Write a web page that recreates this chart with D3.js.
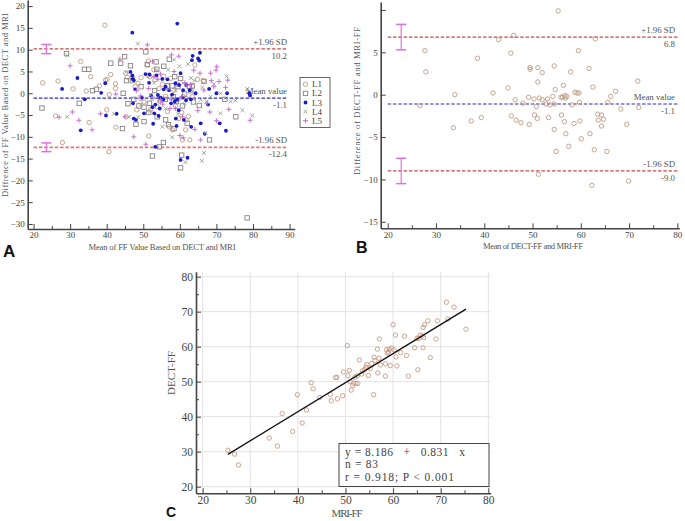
<!DOCTYPE html>
<html><head><meta charset="utf-8">
<script src="https://cdn.jsdelivr.net/npm/d3@7"></script>
<style>
html,body{margin:0;padding:0;background:#fff;}
svg{display:block;}
text{font-family:"Liberation Serif","DejaVu Serif",serif;}
</style></head>
<body>
<svg id="chart" width="685" height="521"></svg>
<script>
// ---------- Panel A data: [mean, difference] ----------
const aL1 = [[39.5,15.6],[22.5,2.4],[26.0,-5.2],[26.7,2.8],[27.9,-11.3],[30.8,1.0],[32.9,7.3],[34.4,0.5],[35.2,-6.7],[35.6,3.8],[38.0,1.7],[39.7,3.0],[40.1,3.2],[40.0,-3.8],[41.1,4.3],[40.7,-0.3],[40.6,-13.4],[42.4,2.2],[42.4,1.1],[42.5,-7.8],[45.2,4.6],[45.3,-5.4],[45.6,3.7],[47.1,3.6],[47.8,1.5],[48.2,-3.8],[48.6,2.3],[49.3,-1.2],[49.4,3.6],[50.2,-2.0],[51.1,6.5],[51.4,7.4],[51.3,4.1],[51.8,3.8],[52.0,-3.8],[52.5,-1.1],[51.5,-9.8],[52.9,5.4],[53.2,3.1],[53.8,-3.1],[54.3,1.1],[54.5,-1.9],[55.2,2.1],[55.6,3.9],[56.1,-0.7],[56.6,-4.2],[57.5,3.4],[58.0,-8.4],[58.4,0.7],[58.8,-2.9],[59.3,2.1],[59.7,-5.8],[60.5,-4.4],[60.7,-10.7],[60.9,-0.8],[61.7,-6.1],[62.3,-5.3],[62.7,-10.7],[63.4,-0.8],[64.1,6.5],[64.8,3.2],[66.4,2.9],[61.6,-8.4],[59.5,-1.5],[57.1,-7.7]];
const aL2 = [[22.3,-3.4],[29.0,9.1],[32.5,-2.3],[33.9,5.5],[35.1,5.5],[36.1,0.6],[37.2,0.9],[41.1,6.9],[43.8,6.9],[44.9,8.4],[44.5,0.0],[44.3,-8.1],[45.4,2.9],[45.8,-2.4],[46.5,6.3],[47.0,2.9],[47.4,-1.4],[48.0,-7.1],[48.8,-2.9],[49.4,1.5],[50.2,-3.2],[50.2,-6.5],[50.7,9.5],[51.1,6.6],[51.5,-4.4],[51.7,-2.3],[52.5,-14.4],[53.1,0.6],[53.5,7.2],[53.7,5.5],[53.8,-5.4],[54.4,-12.3],[54.7,-1.5],[55.5,-11.3],[55.6,6.2],[56.0,-1.4],[56.1,-6.1],[56.6,1.7],[56.9,-7.2],[57.1,7.8],[57.9,1.7],[58.2,-0.8],[58.4,-8.1],[58.6,3.8],[59.0,-1.9],[59.5,1.5],[60.2,3.4],[60.2,-17.1],[60.5,-14.2],[60.7,-2.9],[61.3,-0.2],[62.0,-6.9],[62.6,1.5],[63.0,0.6],[63.4,1.7],[63.7,-2.0],[65.3,-2.8],[66.6,2.7],[68.1,-10.7],[72.3,-1.4],[75.3,-5.4],[78.4,-28.6]];
const aL3 = [[47.0,13.9],[59.3,16.0],[27.8,1.0],[32.0,3.5],[32.9,-8.5],[34.0,-1.4],[38.5,0.1],[39.8,-5.1],[39.6,2.3],[42.7,-4.7],[46.5,4.9],[47.0,4.1],[47.1,3.3],[47.4,3.0],[47.2,-2.3],[47.4,-5.8],[48.0,-6.1],[47.8,0.9],[49.6,-1.0],[50.2,-4.6],[50.6,4.4],[51.6,2.4],[51.7,4.3],[52.1,-0.5],[52.5,-3.2],[52.7,-7.0],[53.0,-4.6],[53.3,-12.3],[53.3,-2.6],[53.6,4.1],[54.0,-0.4],[54.2,-5.2],[54.5,-3.5],[54.7,-1.0],[55.2,3.3],[55.5,-1.4],[55.6,0.9],[56.1,1.5],[56.6,3.2],[57.0,0.7],[57.6,-2.3],[57.9,-0.3],[58.6,-1.9],[58.8,2.3],[58.9,-5.8],[59.1,-7.5],[59.3,-1.4],[59.7,-3.9],[59.8,1.9],[60.2,4.6],[60.2,-15.3],[60.7,-1.0],[60.9,0.7],[61.1,-6.1],[61.7,-1.6],[61.7,1.9],[62.1,-14.8],[62.7,0.7],[63.0,-1.4],[63.1,-7.7],[63.3,7.6],[63.5,8.6],[64.3,0.0],[65.0,8.0],[65.3,7.5],[65.5,9.3],[65.7,-6.9],[66.8,-9.3],[67.7,-2.6],[68.0,1.0],[70.0,0.0],[70.9,-6.9],[72.6,-8.6],[72.9,0.0],[79.0,0.0],[79.2,-0.5]];
const aL4 = [[48.5,11.4],[29.2,-5.4],[29.3,8.7],[42.0,-4.7],[45.4,4.9],[46.1,-5.4],[48.6,-5.5],[49.3,-2.6],[51.1,-4.1],[52.9,2.4],[53.8,5.2],[55.2,-7.7],[56.1,-3.5],[56.8,5.4],[57.9,-10.1],[58.4,7.7],[58.8,0.7],[59.9,6.2],[60.9,2.3],[61.3,-2.4],[61.5,-15.8],[62.2,6.7],[63.0,3.5],[63.9,2.9],[65.7,-1.5],[66.0,-15.5],[66.1,1.3],[66.6,-13.7],[67.0,-9.1],[67.3,-1.9],[68.4,-0.8],[69.3,2.1],[71.1,0.0],[71.1,-4.6],[72.8,3.9],[73.9,-1.9],[75.2,-1.7],[77.1,-3.9],[78.4,1.0],[79.8,-5.1],[59.5,-4.7],[51.9,-0.4]];
const aL5 = [[51.1,11.1],[43.6,7.8],[30.0,6.3],[27.0,-5.5],[30.6,-4.3],[32.4,-6.2],[36.0,-8.4],[38.3,-4.7],[42.5,-0.2],[45.0,-5.4],[47.4,-10.0],[48.2,0.6],[49.3,-0.6],[50.7,-11.7],[51.5,1.1],[52.5,7.3],[52.9,3.8],[54.0,3.2],[54.7,4.4],[55.3,-2.5],[56.6,0.9],[57.3,-3.5],[57.7,8.8],[58.4,5.0],[58.8,-3.5],[59.7,8.5],[60.0,-9.7],[60.5,-0.8],[60.9,-10.2],[61.4,2.4],[61.9,1.8],[63.0,2.0],[63.8,5.3],[64.1,-8.3],[64.9,-4.0],[65.5,4.6],[65.7,-10.7],[66.6,0.7],[67.5,-2.3],[68.2,-4.3],[68.4,4.6],[68.6,2.9],[69.3,1.5],[69.9,5.3],[70.0,-6.3],[70.1,6.1],[70.7,2.7],[72.5,1.3],[73.1,3.0],[73.4,-3.7],[79.2,-6.2],[54.7,-1.5],[57.7,-1.5],[60.7,-5.4]];
const aSeriesNames = ["L1","L2","L3","L4","L5"];
const aLimits = {upper:10.2, mean:-1.1, lower:-12.4};
const aCI = {upper:[9.1,11.2], lower:[-13.4,-11.4], x:23.5};

// ---------- Panel B data: [mean, difference] ----------
const bPoints = [[27.7,5.2],[27.9,2.7],[26.7,-1.3],[33.6,-3.9],[33.9,0.0],[37.3,-3.1],[38.6,4.3],[39.4,-2.7],[41.8,0.2],[43.0,6.5],[44.9,0.8],[45.5,4.9],[45.6,-2.5],[46.1,7.0],[46.4,-0.6],[46.6,-3.0],[47.6,-3.3],[49.2,-0.3],[49.3,-3.5],[49.5,3.2],[49.5,3.0],[50.3,-0.5],[50.4,-2.4],[50.8,-1.4],[51.0,-2.8],[51.1,1.5],[51.1,3.2],[51.2,-9.4],[51.4,-0.4],[52.0,-0.6],[52.0,2.6],[52.8,-1.1],[53.1,-0.5],[53.3,-2.7],[54.2,-0.2],[54.5,3.4],[54.5,-4.1],[54.7,0.6],[54.5,-1.1],[54.9,-6.7],[55.3,9.9],[55.9,-0.3],[56.0,-2.4],[56.2,-0.3],[56.4,1.1],[56.6,-3.2],[56.7,-0.1],[56.8,-0.4],[56.9,-4.6],[57.5,-6.1],[57.9,2.7],[58.2,-1.2],[58.6,-3.4],[58.8,0.3],[59.2,0.2],[59.5,5.2],[59.6,0.2],[59.7,-0.9],[59.8,-3.1],[60.1,-5.2],[61.7,3.1],[61.9,-4.6],[62.3,-10.7],[62.5,0.9],[62.8,-6.5],[63.0,6.6],[63.5,-2.3],[63.6,-3.0],[64.3,-2.4],[64.3,-3.7],[64.7,-2.9],[65.4,-6.7],[65.6,-0.9],[66.2,-0.2],[67.2,0.4],[68.3,-1.7],[69.5,-3.5],[69.9,-10.2],[71.8,1.6],[72.0,-1.5],[53.6,-1.2],[57.1,-0.2],[48.0,-1.0]];
const bLimits = {upper:6.8, mean:-1.1, lower:-9.0};
const bCI = {upper:[5.3,8.3], lower:[-10.5,-7.5], x:22.8};

// ---------- Panel C data: [MRI-FF, DECT-FF] ----------
const cPoints = [[25.3,30.4],[26.7,29.3],[27.5,26.2],[34.0,33.9],[35.7,31.6],[36.7,40.9],[38.9,35.8],[39.9,46.3],[40.9,38.2],[41.8,41.9],[42.8,49.7],[43.2,48.0],[44.6,45.5],[46.8,46.4],[47.0,44.5],[47.9,51.2],[48.2,51.2],[48.3,45.1],[49.4,46.0],[49.6,52.8],[50.4,60.3],[50.5,51.7],[50.8,53.2],[51.0,50.0],[51.2,47.6],[51.5,48.9],[51.7,49.6],[52.0,51.3],[52.2,49.5],[52.5,51.7],[52.6,49.5],[52.9,56.2],[53.4,52.2],[53.6,53.1],[54.3,54.2],[54.5,54.9],[54.8,51.8],[55.2,53.8],[55.9,46.3],[56.0,57.0],[56.2,56.0],[56.7,59.3],[56.8,52.5],[57.0,56.7],[57.1,62.2],[57.3,54.8],[58.4,55.1],[58.4,51.6],[58.6,59.1],[58.8,58.2],[59.2,59.3],[59.4,54.6],[59.7,59.6],[60.0,66.3],[60.2,59.1],[60.5,63.3],[60.6,57.1],[60.8,54.5],[61.6,58.3],[62.4,63.0],[62.8,57.5],[63.2,51.6],[64.5,59.7],[65.0,62.4],[65.2,53.4],[65.4,62.4],[65.7,63.3],[66.1,63.1],[66.3,65.5],[66.4,62.6],[66.3,59.7],[66.6,66.3],[67.3,67.4],[67.8,56.9],[69.0,62.2],[69.3,67.4],[71.2,72.7],[71.5,67.9],[72.8,71.3],[75.3,65.0],[54.0,53.5],[59.0,58.5],[55.5,55.2]];
const cFit = {intercept:8.186, slope:0.831, x0:25.3, x1:75.3};
const cStats = ["y = 8.186   +   0.831   x", "n = 83", "r = 0.918; P < 0.001"];

const svg = d3.select("#chart");
const AXIS = "#444", TXT = "#555";
const colors = {L1:"#bf9b82", L2:"#8c8282", L3:"#1a1acc", L4:"#8fa68f", L5:"#c266c9"};
const fmt = d3.format("d");

function marker(g, type, x, y, color) {
  if (type === "L1") g.append("circle").attr("cx",x).attr("cy",y).attr("r",2.2).attr("fill","none").attr("stroke",color).attr("stroke-width",0.9);
  else if (type === "L2") g.append("rect").attr("x",x-2.2).attr("y",y-2.2).attr("width",4.4).attr("height",4.4).attr("fill","none").attr("stroke",color).attr("stroke-width",0.9);
  else if (type === "L3") g.append("circle").attr("cx",x).attr("cy",y).attr("r",1.9).attr("fill",color);
  else if (type === "L4") g.append("path").attr("d",`M${x-1.9},${y-1.9}L${x+1.9},${y+1.9}M${x-1.9},${y+1.9}L${x+1.9},${y-1.9}`).attr("stroke",color).attr("stroke-width",0.9);
  else if (type === "L5") g.append("path").attr("d",`M${x-2.5},${y}L${x+2.5},${y}M${x},${y-2.5}L${x},${y+2.5}`).attr("stroke",color).attr("stroke-width",0.9);
}

function styleAxis(g, fs) {
  g.selectAll("path.domain").attr("stroke",AXIS).attr("stroke-width",1.6);
  g.selectAll(".tick line").attr("stroke",AXIS).attr("stroke-width",1);
  g.selectAll(".tick text").attr("fill","#444").style("font-size",fs+"px").style("font-family",'"Liberation Serif",serif');
}

function title(txt, x, y, len, fs, rot) {
  const t = svg.append("text").attr("text-anchor","middle").attr("fill",TXT).style("font-size",fs+"px")
    .attr("textLength",len).attr("lengthAdjust","spacing").text(txt);
  if (rot) t.attr("transform",`translate(${x},${y}) rotate(-90)`);
  else t.attr("x",x).attr("y",y);
  return t;
}

function blandAltman(cfg) {
  const {x, y, xTicks, xMinor, yTicks, yLabelFilter, limits, ci, lineX1, labelRight, fs} = cfg;
  const g = svg.append("g");
  const x0 = x(20), x1 = x(lineX1);
  const lines = [
    {v:limits.upper, c:"#c94a4a", w:1.2, top:"+1.96 SD"},
    {v:limits.mean, c:"#2a2acc", w:1.2, top:"Mean value"},
    {v:limits.lower, c:cfg.lowerColor, w:cfg.lowerWidth, top:"-1.96 SD"}
  ];
  lines.forEach(L => {
    g.append("line").attr("x1",x0).attr("x2",x1).attr("y1",y(L.v)).attr("y2",y(L.v))
      .attr("stroke",L.c).attr("stroke-width",L.w).attr("stroke-dasharray","3.5,1.8");
    g.append("text").attr("x",labelRight).attr("y",y(L.v)-4).attr("text-anchor","end")
      .attr("fill",TXT).style("font-size","8.8px").text(L.top);
    g.append("text").attr("x",labelRight).attr("y",y(L.v)+10).attr("text-anchor","end")
      .attr("fill",TXT).style("font-size","8.8px").text(L.v < 0 ? "-" + Math.abs(L.v).toFixed(1) : L.v.toFixed(1));
  });
  [ci.upper, ci.lower].forEach(r => {
    const cx = x(ci.x);
    g.append("line").attr("x1",cx).attr("x2",cx).attr("y1",y(r[0])).attr("y2",y(r[1])).attr("stroke","#e070e0").attr("stroke-width",1.2);
    [r[0], r[1]].forEach(v => g.append("line").attr("x1",cx-5).attr("x2",cx+5).attr("y1",y(v)).attr("y2",y(v)).attr("stroke","#e070e0").attr("stroke-width",1.5));
  });
  const gx = svg.append("g").attr("transform",`translate(0,${y.range()[0]})`)
    .call(d3.axisBottom(x).tickValues(xTicks).tickSizeInner(-5).tickSizeOuter(0).tickPadding(3).tickFormat(fmt));
  gx.append("g").call(d3.axisBottom(x).tickValues(xMinor).tickSizeInner(-3).tickSizeOuter(0).tickFormat(""))
    .select("path.domain").remove();
  styleAxis(gx, fs);
  const gy = svg.append("g").attr("transform",`translate(${x.range()[0]},0)`)
    .call(d3.axisLeft(y).tickValues(yTicks).tickSizeInner(-5).tickSizeOuter(0).tickPadding(3).tickFormat(d => yLabelFilter(d) ? fmt(d) : ""));
  styleAxis(gy, fs);
  return g;
}

// ================= Panel A =================
const xA = d3.scaleLinear().domain([18.4, 91.4]).range([27.7, 294.7]);
const yA = d3.scaleLinear().domain([-31.15, 21.4]).range([229, 0]);
blandAltman({x:xA, y:yA, xTicks:d3.range(20,91,10), xMinor:d3.range(25,90,10),
  yTicks:d3.range(-30,21,5), yLabelFilter:() => true, limits:aLimits, ci:aCI, lineX1:89.5,
  labelRight:287, fs:9, lowerColor:"#e07a7a", lowerWidth:1.8});
const aSeries = [aL1, aL2, aL3, aL4, aL5];
const gAp = svg.append("g");
aSeries.forEach((pts, i) => {
  const nm = aSeriesNames[i];
  pts.forEach(p => marker(gAp, nm, xA(p[0]), yA(p[1]), colors[nm]));
});
const lg = svg.append("g");
lg.append("rect").attr("x",300).attr("y",77.5).attr("width",30).attr("height",50).attr("fill","#fff").attr("stroke","#555").attr("stroke-width",0.9);
aSeriesNames.forEach((nm, i) => {
  const yy = 84.3 + i*9.1;
  marker(lg, nm, 305.5, yy, colors[nm]);
  lg.append("text").attr("x",312).attr("y",yy+3).attr("fill","#444").style("font-size","9px").text(nm);
});
title("Diffrence of FF Value Based on DECT and MRI", 8, 105, 184, 8.6, true);
title("Mean of FF Value Based on DECT and MRI", 162, 250, 147, 8.6, false);
svg.append("text").attr("x",3).attr("y",257).style("font-family",'"Liberation Sans",Arial,sans-serif')
  .style("font-weight","bold").style("font-size","17px").attr("fill","#111").text("A");

// ================= Panel B =================
const xB = d3.scaleLinear().domain([18.55, 80.4]).range([380.7, 679.3]);
const yB = d3.scaleLinear().domain([-15.77, 10.94]).range([228.3, 2]);
blandAltman({x:xB, y:yB, xTicks:d3.range(20,81,10), xMinor:d3.range(25,80,10),
  yTicks:d3.range(-15,11,5), yLabelFilter:d => d !== 10, limits:bLimits, ci:bCI, lineX1:80.3,
  labelRight:675, fs:9, lowerColor:"#c94a4a", lowerWidth:1.2});
const gBp = svg.append("g");
bPoints.forEach(p => marker(gBp, "L1", xB(p[0]), yB(p[1]), colors.L1));
title("Difference of DECT-FF and MRI-FF", 360, 101, 148, 8.6, true);
title("Mean of DECT-FF and MRI-FF", 533, 249, 100, 8.6, false);
svg.append("text").attr("x",356).attr("y",253).style("font-family",'"Liberation Sans",Arial,sans-serif')
  .style("font-weight","bold").style("font-size","16px").attr("fill","#111").text("B");

// ================= Panel C =================
const xC = d3.scaleLinear().domain([18.6, 80.5]).range([196, 490.7]);
const yC = d3.scaleLinear().domain([18.11, 81.43]).range([493.3, 271.7]);
const grid = svg.append("g");
d3.range(20,81,10).forEach(v => {
  grid.append("line").attr("x1",xC(v)).attr("x2",xC(v)).attr("y1",yC.range()[0]).attr("y2",yC.range()[1]).attr("stroke","#e2e2e2").attr("stroke-width",1);
  grid.append("line").attr("y1",yC(v)).attr("y2",yC(v)).attr("x1",xC.range()[0]).attr("x2",xC.range()[1]).attr("stroke","#e2e2e2").attr("stroke-width",1);
});
const gCp = svg.append("g");
cPoints.forEach(p => marker(gCp, "L1", xC(p[0]), yC(p[1]), "#c99a82"));
svg.append("line").attr("x1",xC(cFit.x0)).attr("y1",yC(cFit.intercept + cFit.slope*cFit.x0))
  .attr("x2",xC(cFit.x1)).attr("y2",yC(cFit.intercept + cFit.slope*cFit.x1))
  .attr("stroke","#111").attr("stroke-width",1.4);
const gxC = svg.append("g").attr("transform",`translate(0,${yC.range()[0]})`)
  .call(d3.axisBottom(xC).tickValues(d3.range(20,81,10)).tickSizeInner(-5).tickSizeOuter(0).tickPadding(3).tickFormat(fmt));
gxC.append("g").call(d3.axisBottom(xC).tickValues(d3.range(25,80,10)).tickSizeInner(-3).tickSizeOuter(0).tickFormat("")).select("path.domain").remove();
styleAxis(gxC, 11.5);
const gyC = svg.append("g").attr("transform",`translate(${xC.range()[0]},0)`)
  .call(d3.axisLeft(yC).tickValues(d3.range(20,81,10)).tickSizeInner(-5).tickSizeOuter(0).tickPadding(3).tickFormat(fmt));
gyC.append("g").call(d3.axisLeft(yC).tickValues(d3.range(25,80,10)).tickSizeInner(-3).tickSizeOuter(0).tickFormat("")).select("path.domain").remove();
styleAxis(gyC, 11.5);
const box = svg.append("g");
box.append("rect").attr("x",339).attr("y",443.5).attr("width",150).attr("height",43).attr("fill","#fff").attr("stroke","#444").attr("stroke-width",1);
const statLens = [120, 33, 109];
cStats.forEach((s, i) => {
  box.append("text").attr("x",345).attr("y",456 + i*12.3).attr("fill","#444")
    .style("font-size","11.5px").style("white-space","pre").attr("xml:space","preserve")
    .attr("textLength",statLens[i]).attr("lengthAdjust","spacing").text(s);
});
title("DECT-FF", 175, 373, 44, 11, true);
title("MRI-FF", 347, 517, 31, 11, false);
svg.append("text").attr("x",166).attr("y",517).style("font-family",'"Liberation Sans",Arial,sans-serif')
  .style("font-weight","bold").style("font-size","14px").attr("fill","#111").text("C");
</script>
</body></html>
